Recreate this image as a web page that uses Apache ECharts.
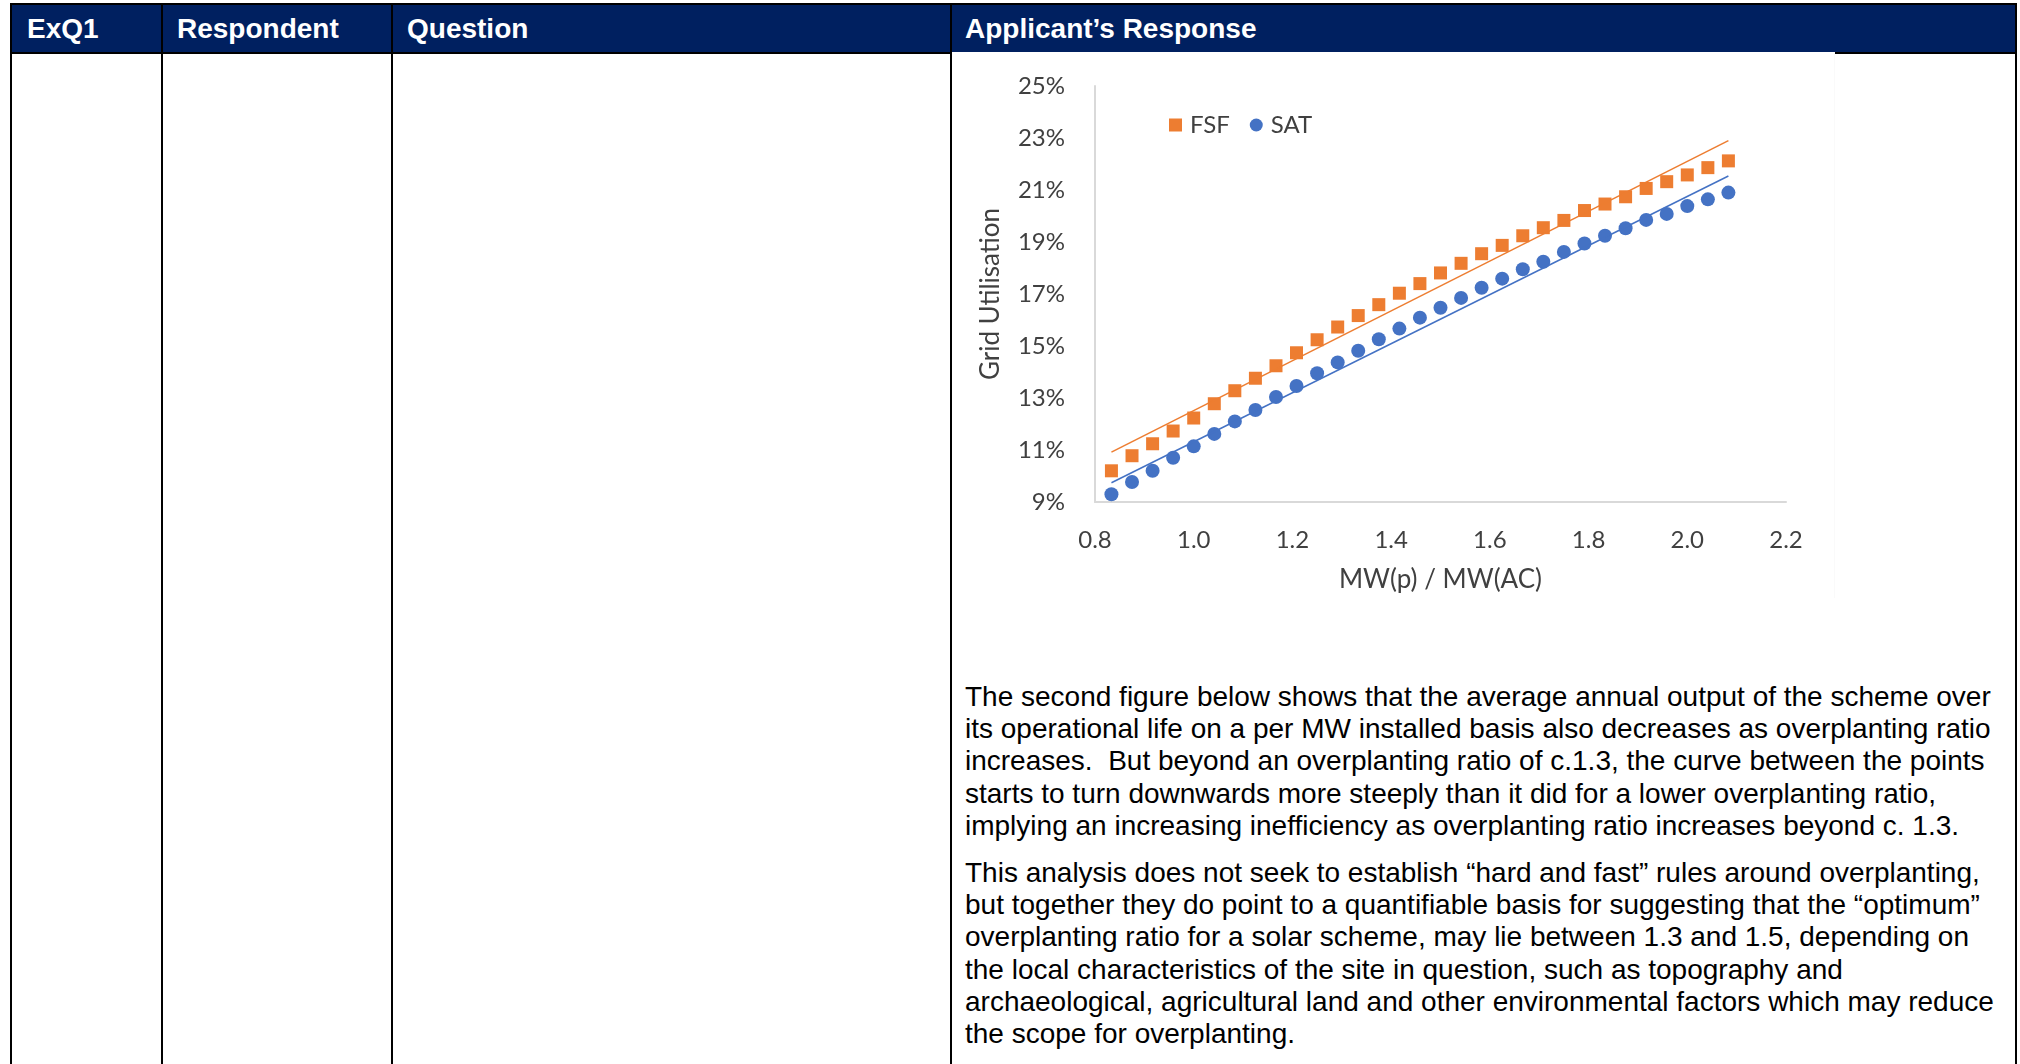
<!DOCTYPE html>
<html><head><meta charset="utf-8">
<script src="https://cdn.jsdelivr.net/npm/echarts@6/dist/echarts.min.js"></script>
<style>
html,body{margin:0;padding:0;background:#fff;}
body{width:2020px;height:1064px;position:relative;overflow:hidden;font-family:"Liberation Sans",Arial,sans-serif;}
.hdr{position:absolute;top:3px;left:10px;width:2007px;height:51px;background:#002060;}
.v{position:absolute;top:3px;bottom:0;width:2px;background:#000;}
.h{position:absolute;left:10px;width:2007px;height:2px;background:#000;}
.ht{position:absolute;top:5px;height:47px;line-height:47px;color:#fff;font-weight:bold;font-size:28px;white-space:nowrap;}
#chart{position:absolute;left:952px;top:52px;width:882px;height:546px;background:#fff;border-right:1px solid #fafafa;}
.para{position:absolute;left:965px;font-size:28px;line-height:32.2px;color:#000;white-space:nowrap;}
</style></head>
<body>
<div class="hdr"></div>
<div class="h" style="top:3px"></div>
<div class="h" style="top:52px"></div>
<div class="v" style="left:10px"></div>
<div class="v" style="left:161px"></div>
<div class="v" style="left:391px"></div>
<div class="v" style="left:950px"></div>
<div class="v" style="left:2015px"></div>
<div class="ht" style="left:27px">ExQ1</div>
<div class="ht" style="left:177px">Respondent</div>
<div class="ht" style="left:407px">Question</div>
<div class="ht" style="left:965px">Applicant’s Response</div>
<div id="chart"></div>
<div class="para" style="top:681px">The second figure below shows that the average annual output of the scheme over<br>its operational life on a per MW installed basis also decreases as overplanting ratio<br>increases.&nbsp; But beyond an overplanting ratio of c.1.3, the curve between the points<br>starts to turn downwards more steeply than it did for a lower overplanting ratio,<br>implying an increasing inefficiency as overplanting ratio increases beyond c. 1.3.</div>
<div class="para" style="top:857px">This analysis does not seek to establish “hard and fast” rules around overplanting,<br>but together they do point to a quantifiable basis for suggesting that the “optimum”<br>overplanting ratio for a solar scheme, may lie between 1.3 and 1.5, depending on<br>the local characteristics of the site in question, such as topography and<br>archaeological, agricultural land and other environmental factors which may reduce<br>the scope for overplanting.</div>
<script>
// Overplanting ratio MW(p)/MW(AC)
var ratio = [0.8333, 0.875, 0.9167, 0.9583, 1.0, 1.0417, 1.0833, 1.125, 1.1667, 1.2083, 1.25, 1.2917, 1.3333, 1.375, 1.4167, 1.4583, 1.5, 1.5417, 1.5833, 1.625, 1.6667, 1.7083, 1.75, 1.7917, 1.8333, 1.875, 1.9167, 1.9583, 2.0, 2.0417, 2.0833];
// Grid utilisation (%)
var fsf = [10.20, 10.78, 11.24, 11.73, 12.23, 12.78, 13.28, 13.76, 14.24, 14.74, 15.24, 15.73, 16.17, 16.59, 17.03, 17.40, 17.81, 18.18, 18.55, 18.87, 19.24, 19.55, 19.83, 20.21, 20.46, 20.74, 21.06, 21.32, 21.58, 21.86, 22.12];
var sat = [9.30, 9.77, 10.20, 10.70, 11.14, 11.62, 12.10, 12.54, 13.04, 13.46, 13.95, 14.37, 14.82, 15.26, 15.67, 16.09, 16.47, 16.85, 17.24, 17.59, 17.95, 18.24, 18.62, 18.94, 19.24, 19.53, 19.85, 20.08, 20.38, 20.64, 20.90];
// Linear trendline end points
var trendX = [0.8333, 2.0833];
var fsfTrend = [10.92, 22.90];
var satTrend = [9.74, 21.54];
// Axis ticks
var xTicks = [0.8, 1.0, 1.2, 1.4, 1.6, 1.8, 2.0, 2.2];
var yTicks = [9, 11, 13, 15, 17, 19, 21, 23, 25];

function pairs(xs, ys){ return xs.map(function(x,i){ return [x, ys[i]]; }); }

var txt = '#404040';
var chart = echarts.init(document.getElementById('chart'), null, {renderer:'canvas'});
chart.setOption({
  animation:false,
  backgroundColor:'#fff',
  grid:{left:143, top:34, width:691, height:416, outerBoundsMode:'none'},
  legend:{
    data:[{name:'FSF', icon:'rect'}, {name:'SAT', icon:'circle'}],
    left:212, top:56, itemWidth:13, itemHeight:13, itemGap:20,
    textStyle:{fontFamily:'Lato', fontSize:24, color:txt, padding:[0,0,0,3]}
  },
  xAxis:{
    type:'value', min:xTicks[0], max:xTicks[xTicks.length-1], interval:0.2,
    name:'MW(p) / MW(AC)', nameLocation:'middle', nameGap:65,
    nameTextStyle:{fontFamily:'Lato', fontSize:26, color:txt},
    axisLine:{show:true, onZero:false, lineStyle:{color:'#D9D9D9', width:2}},
    axisTick:{show:false}, splitLine:{show:false},
    axisLabel:{margin:26, fontFamily:'Lato', fontSize:24, color:txt, formatter:function(v){ return v.toFixed(1); }}
  },
  yAxis:{
    type:'value', min:yTicks[0], max:yTicks[yTicks.length-1], interval:1,
    name:'Grid Utilisation', nameLocation:'middle', nameGap:91,
    nameTextStyle:{fontFamily:'Lato', fontSize:26, color:txt},
    axisLine:{show:true, lineStyle:{color:'#D9D9D9', width:2}},
    axisTick:{show:false}, splitLine:{show:false},
    axisLabel:{margin:30, fontFamily:'Lato', fontSize:24, color:txt, formatter:function(v){ var r=Math.round(v); return yTicks.indexOf(r)>=0 ? r+'%' : ''; }}
  },
  series:[
    {name:'FSF', type:'scatter', symbol:'rect', symbolSize:13, itemStyle:{color:'#ED7D31', opacity:1}, data:pairs(ratio, fsf)},
    {name:'SAT', type:'scatter', symbol:'circle', symbolSize:14, itemStyle:{color:'#4472C4', opacity:1}, data:pairs(ratio, sat)},
    {name:'FSF trend', type:'line', showSymbol:false, silent:true, lineStyle:{color:'#ED7D31', width:1.5}, data:pairs(trendX, fsfTrend)},
    {name:'SAT trend', type:'line', showSymbol:false, silent:true, lineStyle:{color:'#4472C4', width:1.5}, data:pairs(trendX, satTrend)}
  ]
});
</script>
</body></html>
